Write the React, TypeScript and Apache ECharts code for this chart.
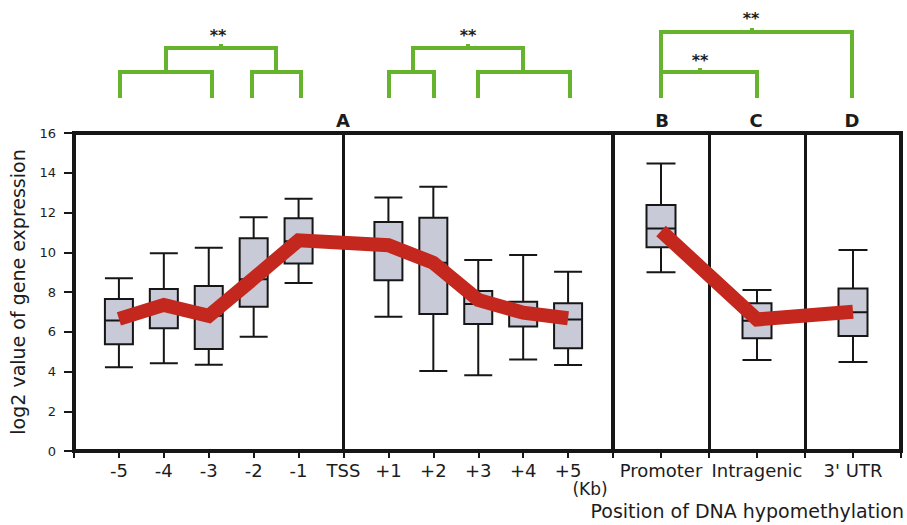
import React, { useEffect, useRef } from 'react';
import * as echarts from 'echarts';

// ---- Data ----
// Left panel: position relative to TSS in Kb (0 = TSS)
const tssPositions = [-5, -4, -3, -2, -1, 1, 2, 3, 4, 5];
const tssMin = [4.21, 4.41, 4.34, 5.75, 8.45, 6.76, 4.03, 3.81, 4.61, 4.33];
const tssQ1 = [5.37, 6.17, 5.13, 7.26, 9.44, 8.59, 6.89, 6.39, 6.26, 5.17];
const tssMedian = [6.56, 7.3, 6.8, 8.64, 10.55, 10.3, 9.47, 7.4, 7.0, 6.62];
const tssQ3 = [7.65, 8.15, 8.3, 10.7, 11.71, 11.52, 11.74, 8.05, 7.51, 7.43];
const tssMax = [8.69, 9.95, 10.23, 11.76, 12.69, 12.76, 13.3, 9.61, 9.86, 9.02];
const tssMean = [6.65, 7.35, 6.8, 8.68, 10.6, 10.35, 9.47, 7.6, 6.96, 6.68];

// Right panel: gene regions
const regionLabels = ['Promoter', 'Intragenic', "3' UTR"];
const regionPositions = [1, 3, 5];
const regionMin = [8.99, 4.58, 4.48];
const regionQ1 = [10.25, 5.67, 5.79];
const regionMedian = [11.2, 6.55, 6.98];
const regionQ3 = [12.38, 7.43, 8.18];
const regionMax = [14.47, 8.1, 10.11];
const regionMean = [11.07, 6.62, 7.01];

const regionDividers = [2, 4];
const tssDivider = 0;

const yMin = 0;
const yMax = 16;
const yInterval = 2;

const panelLetters = ['A', 'B', 'C', 'D'];
const yAxisTitle = 'log2 value of gene expression';
const xAxisTitle = 'Position of DNA hypomethylation';
const unitLabel = '(Kb)';
const signif = '**';

// ---- Styles ----
const FONT = 'DejaVu Sans';
const BLACK = '#161616';
const TEXT = '#1c1c1c';
const BOX_FILL = '#c9cad7';
const RED = '#c3271d';
const GREEN = '#66b32e';

export default function App() {
  const ref = useRef<HTMLDivElement>(null);

  useEffect(() => {
    document.body.style.margin = '0';
    const chart = echarts.init(ref.current!, null, { renderer: 'svg' });

    const tssLabel = (v: number) => {
      if (v <= -6 || v >= 6) return '';
      if (v === 0) return 'TSS';
      return v > 0 ? '+' + v : String(v);
    };
    const regionLabel = (v: number) => {
      const idx = regionPositions.indexOf(v);
      return idx >= 0 ? regionLabels[idx] : '';
    };

    const commonXAxis = {
      type: 'value',
      interval: 1,
      axisLine: { show: true, onZero: false, lineStyle: { color: BLACK, width: 4 } },
      axisTick: { show: true, length: 7, lineStyle: { color: BLACK, width: 2 } },
      splitLine: { show: false },
    };
    const labelStyle = {
      fontSize: 18,
      fontFamily: FONT,
      color: TEXT,
      margin: 10,
      showMinLabel: true,
      showMaxLabel: true,
    };

    const greenLine = (points: number[][]) => ({
      type: 'polyline',
      shape: { points },
      style: { stroke: GREEN, lineWidth: 4, fill: 'none' },
      silent: true,
      z: 10,
    });
    const label = (text: string, x: number, y: number, size: number, bold: boolean, align = 'center') => ({
      type: 'text',
      x,
      y,
      silent: true,
      z: 10,
      style: {
        text,
        fontSize: size,
        fontWeight: bold ? 'bold' : 'normal',
        fontFamily: FONT,
        fill: TEXT,
        align,
        verticalAlign: 'middle',
      },
    });

    const option: any = {
      animation: false,
      backgroundColor: '#ffffff',
      grid: [
        { left: 73, top: 133, width: 540, height: 318, show: true, borderColor: BLACK, borderWidth: 4, backgroundColor: 'transparent' },
        { left: 613, top: 133, width: 288, height: 318, show: true, borderColor: BLACK, borderWidth: 4, backgroundColor: 'transparent' },
      ],
      xAxis: [
        { ...commonXAxis, gridIndex: 0, min: -6, max: 6, axisLabel: { ...labelStyle, formatter: tssLabel } },
        { ...commonXAxis, gridIndex: 1, min: 0, max: 6, axisLabel: { ...labelStyle, formatter: regionLabel } },
      ],
      yAxis: [
        {
          type: 'value',
          gridIndex: 0,
          min: yMin,
          max: yMax,
          interval: yInterval,
          axisLine: { show: true, onZero: false, lineStyle: { color: BLACK, width: 4 } },
          axisTick: { show: true, length: 10, lineStyle: { color: BLACK, width: 2 } },
          axisLabel: { fontSize: 13, fontFamily: FONT, color: TEXT, margin: 18 },
          splitLine: { show: false },
          name: yAxisTitle,
          nameLocation: 'middle',
          nameGap: 47,
          nameTextStyle: { fontSize: 19, fontFamily: FONT, color: TEXT },
        },
        {
          type: 'value',
          gridIndex: 1,
          min: yMin,
          max: yMax,
          interval: yInterval,
          axisLine: { show: false, onZero: false },
          axisTick: { show: false },
          axisLabel: { show: false },
          splitLine: { show: false },
        },
      ],
      series: [
        {
          type: 'boxplot',
          xAxisIndex: 0,
          yAxisIndex: 0,
          layout: 'horizontal',
          boxWidth: [28, 28],
          silent: true,
          z: 2,
          itemStyle: { color: BOX_FILL, borderColor: BLACK, borderWidth: 2 },
          data: tssPositions.map((x, i) => [x, tssMin[i], tssQ1[i], tssMedian[i], tssQ3[i], tssMax[i]]),
          markLine: {
            silent: true,
            symbol: 'none',
            label: { show: false },
            lineStyle: { color: BLACK, width: 3, type: 'solid' },
            data: [{ xAxis: tssDivider }],
          },
        },
        {
          type: 'line',
          xAxisIndex: 0,
          yAxisIndex: 0,
          silent: true,
          z: 5,
          showSymbol: false,
          symbol: 'none',
          lineStyle: { color: RED, width: 14, cap: 'butt', join: 'miter' },
          data: tssPositions.map((x, i) => [x, tssMean[i]]),
        },
        {
          type: 'boxplot',
          xAxisIndex: 1,
          yAxisIndex: 1,
          layout: 'horizontal',
          boxWidth: [29, 29],
          silent: true,
          z: 2,
          itemStyle: { color: BOX_FILL, borderColor: BLACK, borderWidth: 2 },
          data: regionPositions.map((x, i) => [x, regionMin[i], regionQ1[i], regionMedian[i], regionQ3[i], regionMax[i]]),
          markLine: {
            silent: true,
            symbol: 'none',
            label: { show: false },
            lineStyle: { color: BLACK, width: 3, type: 'solid' },
            data: regionDividers.map((d) => ({ xAxis: d })),
          },
        },
        {
          type: 'line',
          xAxisIndex: 1,
          yAxisIndex: 1,
          silent: true,
          z: 5,
          showSymbol: false,
          symbol: 'none',
          lineStyle: { color: RED, width: 14, cap: 'butt', join: 'miter' },
          data: regionPositions.map((x, i) => [x, regionMean[i]]),
        },
      ],
      graphic: [
        // upstream bracket group
        greenLine([[120, 98], [120, 72], [212, 72], [212, 98]]),
        greenLine([[252, 98], [252, 72], [301, 72], [301, 98]]),
        greenLine([[166, 72], [166, 48], [276, 48], [276, 72]]),
        greenLine([[221, 48], [221, 44]]),
        // downstream bracket group
        greenLine([[389, 98], [389, 72], [434, 72], [434, 98]]),
        greenLine([[478, 98], [478, 72], [570, 72], [570, 98]]),
        greenLine([[413, 72], [413, 48], [523, 48], [523, 72]]),
        greenLine([[468, 48], [468, 44]]),
        // region bracket group
        greenLine([[661, 98], [661, 32], [852, 32], [852, 98]]),
        greenLine([[661, 72], [757, 72], [757, 98]]),
        greenLine([[752, 32], [752, 28]]),
        greenLine([[700, 72], [700, 68]]),
        label(signif, 218, 35, 16, true),
        label(signif, 468, 35, 16, true),
        label(signif, 751, 18, 16, true),
        label(signif, 700, 60, 16, true),
        label(panelLetters[0], 343, 120, 18, true),
        label(panelLetters[1], 662, 120, 18, true),
        label(panelLetters[2], 756, 120, 18, true),
        label(panelLetters[3], 852, 120, 18, true),
        label(unitLabel, 590, 489, 17, false),
        label(xAxisTitle, 904, 511, 19, false, 'right'),
      ],
    };

    chart.setOption(option);
    return () => chart.dispose();
  }, []);

  return <div ref={ref} style={{ width: 907, height: 525 }} />;
}
